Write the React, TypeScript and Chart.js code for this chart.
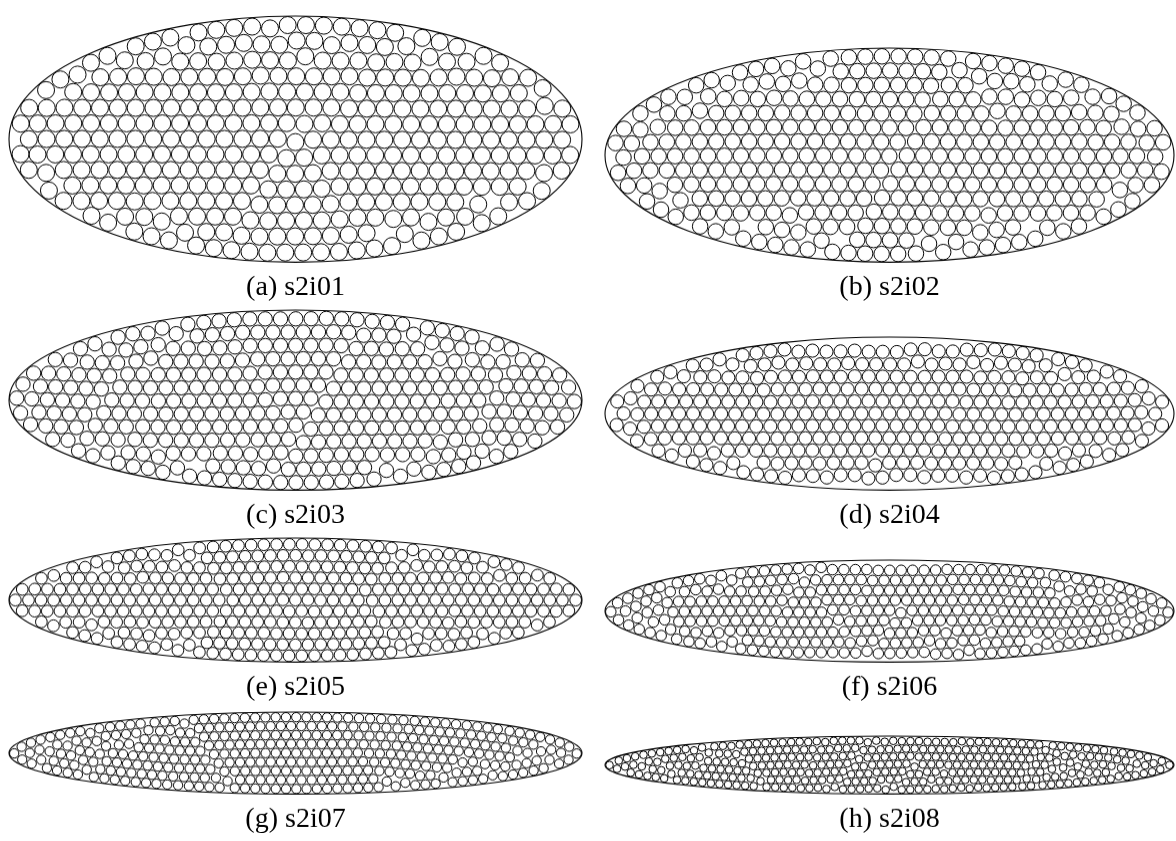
import React, { useEffect, useRef } from "react";
import { Chart, registerables } from "chart.js";

Chart.register(...registerables);

// ---- data ----
const PANEL_LETTERS = ["a", "b", "c", "d", "e", "f", "g", "h"];
const PANEL_NAMES = ["s2i01", "s2i02", "s2i03", "s2i04", "s2i05", "s2i06", "s2i07", "s2i08"];
// ellipse semi-axes (container) and particle diameter, in picture units
const SEMI_MAJOR = [286.5, 284.5, 286.5, 284.5, 286.5, 284.5, 286.5, 284.5];
const SEMI_MINOR = [123, 107, 90, 76.5, 62, 51, 41, 29];
const DIAMETER = [18, 16.5, 15.3, 14.1, 12.7, 11.5, 10.3, 8.6];

// ---- layout (not data) ----
const COL_CX = [295.5, 889.5];
const ROW_BOTTOM = [262, 490, 662, 794];
const PAD = 2;
const FONT_SIZE = 28;
const LINE_H = 1.2;
const TITLE_PAD_TOP = 6;
const TITLE_PAD_BOTTOM = 2;

type P = { x: number; y: number };

// start from a hexagonal arrangement, then relax (hard-disk push + wall projection)
function packEllipse(A: number, B: number, d: number): P[] {
  const r = d / 2;
  const rowStep = (d * Math.sqrt(3)) / 2;
  let pts: P[] = [];
  const sa = A - 0.5 * r;
  const sb = B - 0.5 * r;
  const kMax = Math.ceil(B / rowStep) + 1;
  const jMax = Math.ceil(A / d) + 1;
  for (let k = -kMax; k <= kMax; k++) {
    const y = k * rowStep;
    const off = (((k % 2) + 2) % 2) * 0.5;
    for (let j = -jMax; j <= jMax; j++) {
      const x = (j + off) * d;
      if ((x / sa) ** 2 + (y / sb) ** 2 < 1) pts.push({ x, y });
    }
  }

  const NS = 360;
  const ts = new Float64Array(NS);
  const ex = new Float64Array(NS);
  const ey = new Float64Array(NS);
  for (let i = 0; i < NS; i++) {
    ts[i] = (2 * Math.PI * i) / NS;
    ex[i] = A * Math.cos(ts[i]);
    ey[i] = B * Math.sin(ts[i]);
  }
  const wall = (p: P) => {
    const rho = Math.sqrt((p.x / A) ** 2 + (p.y / B) ** 2);
    if (rho < 1 && (1 - rho) * B >= r) return;
    let bi = 0;
    let bd = Infinity;
    for (let i = 0; i < NS; i++) {
      const dx = p.x - ex[i];
      const dy = p.y - ey[i];
      const dd = dx * dx + dy * dy;
      if (dd < bd) {
        bd = dd;
        bi = i;
      }
    }
    let t = ts[bi];
    for (let it = 0; it < 5; it++) {
      const c = Math.cos(t);
      const s = Math.sin(t);
      const h = (A * c - p.x) * (-A * s) + (B * s - p.y) * (B * c);
      const hp = A * A * s * s + B * B * c * c + (A * c - p.x) * (-A * c) + (B * s - p.y) * (-B * s);
      if (Math.abs(hp) < 1e-9) break;
      const nt = t - h / hp;
      if (Math.abs(nt - t) > 0.2) break;
      t = nt;
    }
    const c = Math.cos(t);
    const s = Math.sin(t);
    const qx = A * c;
    const qy = B * s;
    let nx = c / A;
    let ny = s / B;
    const nl = Math.hypot(nx, ny);
    nx /= nl;
    ny /= nl;
    const dist = (qx - p.x) * nx + (qy - p.y) * ny;
    if (dist < r) {
      p.x = qx - r * nx;
      p.y = qy - r * ny;
    }
  };

  const cell = d;
  const buildGrid = () => {
    const grid = new Map<string, number[]>();
    for (let i = 0; i < pts.length; i++) {
      const key = Math.floor(pts[i].x / cell) + "," + Math.floor(pts[i].y / cell);
      const g = grid.get(key);
      if (g) g.push(i);
      else grid.set(key, [i]);
    }
    return grid;
  };
  const forPairs = (fn: (i: number, j: number, dd: number, dx: number, dy: number) => void) => {
    const grid = buildGrid();
    for (let i = 0; i < pts.length; i++) {
      const p = pts[i];
      const gx = Math.floor(p.x / cell);
      const gy = Math.floor(p.y / cell);
      for (let ox = -1; ox <= 1; ox++) {
        for (let oy = -1; oy <= 1; oy++) {
          const g = grid.get(gx + ox + "," + (gy + oy));
          if (!g) continue;
          for (const j of g) {
            if (j <= i) continue;
            const q = pts[j];
            const dx = q.x - p.x;
            const dy = q.y - p.y;
            const dd = Math.hypot(dx, dy);
            if (dd < d) fn(i, j, dd, dx, dy);
          }
        }
      }
    }
  };
  const relax = (iters: number) => {
    for (let iter = 0; iter < iters; iter++) {
      forPairs((i, j, dd, dx, dy) => {
        if (dd < 1e-9) return;
        const p = pts[i];
        const q = pts[j];
        const push = (d - dd) / 2;
        const ux = dx / dd;
        const uy = dy / dd;
        p.x -= ux * push;
        p.y -= uy * push;
        q.x += ux * push;
        q.y += uy * push;
      });
      for (let i = 0; i < pts.length; i++) wall(pts[i]);
    }
  };

  relax(400);
  for (let round = 0; round < 8; round++) {
    const drop = new Set<number>();
    forPairs((i, j, dd) => {
      if (d - dd > 0.07 * d && !drop.has(i) && !drop.has(j)) drop.add(j);
    });
    if (drop.size === 0) break;
    pts = pts.filter((_, i) => !drop.has(i));
    relax(200);
  }
  return pts;
}

const ellipsePlugin = {
  id: "ellipseOutline",
  beforeDatasetsDraw(chart: any, _args: any, opts: any) {
    const { ctx, scales } = chart;
    const x0 = scales.x.getPixelForValue(0);
    const y0 = scales.y.getPixelForValue(0);
    const rx = Math.abs(scales.x.getPixelForValue(opts.a) - x0);
    const ry = Math.abs(scales.y.getPixelForValue(opts.b) - y0);
    ctx.save();
    ctx.beginPath();
    ctx.ellipse(x0, y0, rx, ry, 0, 0, Math.PI * 2);
    ctx.lineWidth = 1.1;
    ctx.strokeStyle = "#000";
    ctx.stroke();
    ctx.restore();
  },
};

function Panel({ idx }: { idx: number }) {
  const ref = useRef<HTMLCanvasElement>(null);
  const A = SEMI_MAJOR[idx];
  const B = SEMI_MINOR[idx];
  const d = DIAMETER[idx];
  const titleH = TITLE_PAD_TOP + FONT_SIZE * LINE_H + TITLE_PAD_BOTTOM;
  const w = 2 * A + 2 * PAD;
  const h = 2 * B + 2 * PAD + titleH;
  const cx = COL_CX[idx % 2];
  const cy = ROW_BOTTOM[Math.floor(idx / 2)] - B;

  useEffect(() => {
    if (!ref.current) return;
    const pts = packEllipse(A, B, d);
    const radiusPx = (c: any) => {
      const s = c.chart.scales.x;
      return Math.abs(s.getPixelForValue(d / 2) - s.getPixelForValue(0)) - 0.5;
    };
    const chart = new Chart(ref.current, {
      type: "scatter",
      data: {
        datasets: [
          {
            data: pts,
            pointRadius: radiusPx,
            pointHoverRadius: radiusPx,
            pointBackgroundColor: "rgba(255,255,255,0)",
            pointBorderColor: "#000",
            pointBorderWidth: 1,
            showLine: false,
            clip: false as any,
          } as any,
        ],
      },
      options: {
        animation: false,
        responsive: false,
        maintainAspectRatio: false,
        events: [],
        layout: { padding: 0 },
        scales: {
          x: { type: "linear", display: false, min: -A - PAD, max: A + PAD },
          y: { type: "linear", display: false, min: -B - PAD, max: B + PAD },
        },
        plugins: {
          legend: { display: false },
          tooltip: { enabled: false },
          title: {
            display: true,
            position: "bottom",
            text: `(${PANEL_LETTERS[idx]}) ${PANEL_NAMES[idx]}`,
            color: "#000",
            font: { family: "'Liberation Serif', serif", size: FONT_SIZE, weight: "normal", lineHeight: LINE_H },
            padding: { top: TITLE_PAD_TOP, bottom: TITLE_PAD_BOTTOM },
          },
          ellipseOutline: { a: A, b: B },
        } as any,
      },
      plugins: [ellipsePlugin],
    });
    return () => chart.destroy();
  }, [idx]);

  return (
    <canvas
      ref={ref}
      width={w}
      height={h}
      style={{
        position: "absolute",
        left: cx - A - PAD,
        top: cy - B - PAD,
        width: w,
        height: h,
      }}
    />
  );
}

export default function App() {
  return (
    <div
      style={{
        position: "absolute",
        left: 0,
        top: 0,
        width: 1176,
        height: 841,
        background: "#fff",
        overflow: "hidden",
      }}
    >
      {PANEL_NAMES.map((_, i) => (
        <Panel key={i} idx={i} />
      ))}
    </div>
  );
}
